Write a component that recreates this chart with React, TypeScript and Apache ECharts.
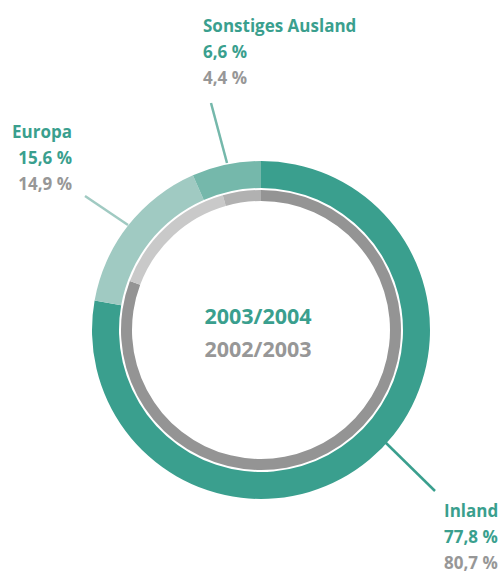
import React, { useEffect, useRef } from 'react';
import * as echarts from 'echarts';

// ---- data ----
const categories = ['Inland', 'Europa', 'Sonstiges Ausland'];
const current = [77.8, 15.6, 6.6]; // 2003/2004 (outer ring)
const previous = [80.7, 14.9, 4.4]; // 2002/2003 (inner ring)
const periods = ['2003/2004', '2002/2003'];

// ---- styles ----
const TEAL = '#3a9f8e';
const GREY = '#979797';
const outerColors = ['#3a9f8e', '#a0cac2', '#75b8ab'];
const innerColors = ['#949494', '#c9c9c9', '#b1b1b1'];
const FONT = '"Open Sans", "Noto Sans", sans-serif';

const labelPlace = [
  { x: 444, y: 497, align: 'left', line: [[385, 442], [435, 491]] },
  { x: 72, y: 118, align: 'right', line: [[128, 225], [85, 196]] },
  { x: 203, y: 12, align: 'left', line: [[227, 163], [211, 103]] },
];

const fmt = (v: number) => v.toFixed(1).replace('.', ',') + ' %';

const rich = (align: string) => ({
  n: { fontFamily: FONT, fontWeight: 'bold', fontSize: 17, color: TEAL, lineHeight: 26.5, align },
  a: { fontFamily: FONT, fontWeight: 'bold', fontSize: 17, color: TEAL, lineHeight: 26.5, align },
  b: { fontFamily: FONT, fontWeight: 'bold', fontSize: 17, color: GREY, lineHeight: 22, align, padding: [2, 0, 0, 0] },
});

export default function App() {
  const ref = useRef<HTMLDivElement>(null);
  useEffect(() => {
    if (!ref.current) return;
    const chart = echarts.init(ref.current, undefined, { renderer: 'svg' });
    const center = [261, 330];
    chart.setOption({
      animation: false,
      backgroundColor: '#ffffff',
      graphic: [
        {
          type: 'text',
          x: 258,
          y: 315,
          style: {
            text: periods[0],
            fill: TEAL,
            font: `bold 21.5px ${FONT}`,
            textAlign: 'center',
            textVerticalAlign: 'middle',
          },
        },
        {
          type: 'text',
          x: 258,
          y: 348,
          style: {
            text: periods[1],
            fill: GREY,
            font: `bold 21.5px ${FONT}`,
            textAlign: 'center',
            textVerticalAlign: 'middle',
          },
        },
      ],
      series: [
        {
          type: 'pie',
          name: periods[0],
          center,
          radius: [142, 169],
          startAngle: 90,
          clockwise: true,
          avoidLabelOverlap: false,
          silent: true,
          itemStyle: { borderWidth: 0 },
          label: {
            show: true,
            position: 'outside',
            formatter: (p: any) =>
              `{n|${p.name}}\n{a|${fmt(current[p.dataIndex])}}\n{b|${fmt(previous[p.dataIndex])}}`,
          },
          labelLine: { show: true, length: 20, length2: 0, smooth: false },
          labelLayout: (p: any) => {
            const lp = labelPlace[p.dataIndex];
            return {
              x: lp.x,
              y: lp.y,
              align: lp.align,
              verticalAlign: 'top',
              labelLinePoints: [lp.line[0], lp.line[1], lp.line[1]],
            };
          },
          data: categories.map((name, i) => ({
            name,
            value: current[i],
            itemStyle: { color: outerColors[i] },
            label: { rich: rich(labelPlace[i].align) },
            labelLine: { lineStyle: { color: outerColors[i], width: 2.5 } },
          })),
        },
        {
          type: 'pie',
          name: periods[1],
          center,
          radius: [129, 140],
          startAngle: 90,
          clockwise: true,
          silent: true,
          label: { show: false },
          labelLine: { show: false },
          itemStyle: { borderWidth: 0 },
          data: categories.map((name, i) => ({
            name,
            value: previous[i],
            itemStyle: { color: innerColors[i] },
          })),
        },
      ],
    });
    return () => chart.dispose();
  }, []);
  return (
    <div
      ref={ref}
      style={{ position: 'fixed', left: 0, top: 0, width: 502, height: 574 }}
    />
  );
}
